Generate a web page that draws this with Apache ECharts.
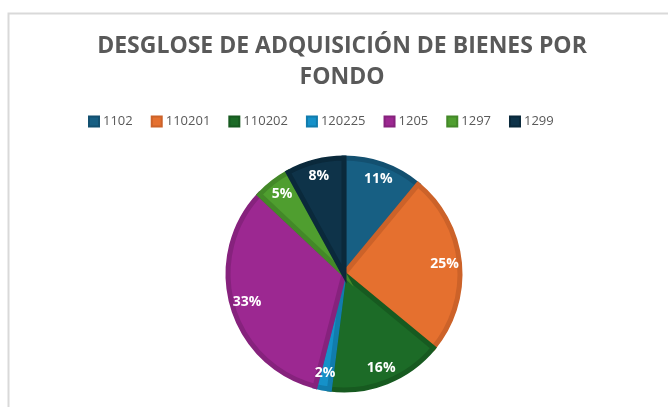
<!DOCTYPE html>
<html>
<head>
<meta charset="utf-8">
<script src="https://cdn.jsdelivr.net/npm/echarts@6/dist/echarts.min.js"></script>
<style>
  html, body { margin: 0; padding: 0; background: #fff; }
  #chart { width: 668px; height: 407px; }
</style>
</head>
<body>
<div id="chart"></div>
<script>
// Fondos y su participación (%) en la adquisición de bienes
const fondos = ['1102', '110201', '110202', '120225', '1205', '1297', '1299'];
const porcentajes = [11, 25, 16, 2, 33, 5, 8];
const colores = ['#175f83', '#e5702f', '#1c6b27', '#1591c9', '#9c2891', '#4f9e2f', '#0e3349'];
const bordes = ['#135070', '#cc6229', '#175a20', '#117cad', '#86227d', '#438828', '#0a293b'];

const datos = fondos.map((f, i) => ({
  name: f,
  value: porcentajes[i],
  itemStyle: { color: colores[i], borderColor: bordes[i] }
}));

const chart = echarts.init(document.getElementById('chart'), null, { renderer: 'canvas' });
chart.setOption({
  backgroundColor: '#ffffff',
  animation: false,
  graphic: [{
    type: 'rect',
    shape: { x: 8.5, y: 13.5, width: 800, height: 600 },
    style: { fill: 'none', stroke: '#d9d9d9', lineWidth: 2 },
    silent: true
  }],
  title: {
    text: 'DESGLOSE DE ADQUISICIÓN DE BIENES POR\nFONDO',
    left: 337,
    textAlign: 'center',
    top: 26,
    textStyle: {
      fontFamily: 'Open Sans',
      fontWeight: 'bold',
      fontSize: 23,
      lineHeight: 31,
      color: '#595959'
    }
  },
  legend: {
    data: fondos,
    top: 110,
    left: 83,
    itemWidth: 10,
    itemHeight: 10,
    itemGap: 18,
    icon: 'rect',
    textStyle: { fontFamily: 'Open Sans', fontSize: 13, color: '#595959', padding: [0, 0, 0, -1] }
  },
  series: [
    {
      type: 'pie',
      center: [344, 274],
      radius: [0, 116],
      startAngle: 90,
      clockwise: true,
      data: datos,
      itemStyle: { borderWidth: 5, borderJoin: 'miter' },
      label: { show: false },
      labelLine: { show: false },
      emphasis: { disabled: true },
      silent: true
    },
    {
      // capa transparente que sólo coloca las etiquetas de porcentaje
      type: 'pie',
      center: [344, 274],
      radius: [78, 118],
      startAngle: 90,
      clockwise: true,
      data: fondos.map((f, i) => ({ name: f, value: porcentajes[i] })),
      itemStyle: { color: 'rgba(0,0,0,0)', borderWidth: 0 },
      label: {
        show: true,
        position: 'inside',
        formatter: (p) => p.value + '%',
        fontFamily: 'Open Sans',
        fontWeight: 'bold',
        fontSize: 14,
        color: '#ffffff'
      },
      labelLine: { show: false },
      emphasis: { disabled: true },
      silent: true
    }
  ]
});
</script>
</body>
</html>
